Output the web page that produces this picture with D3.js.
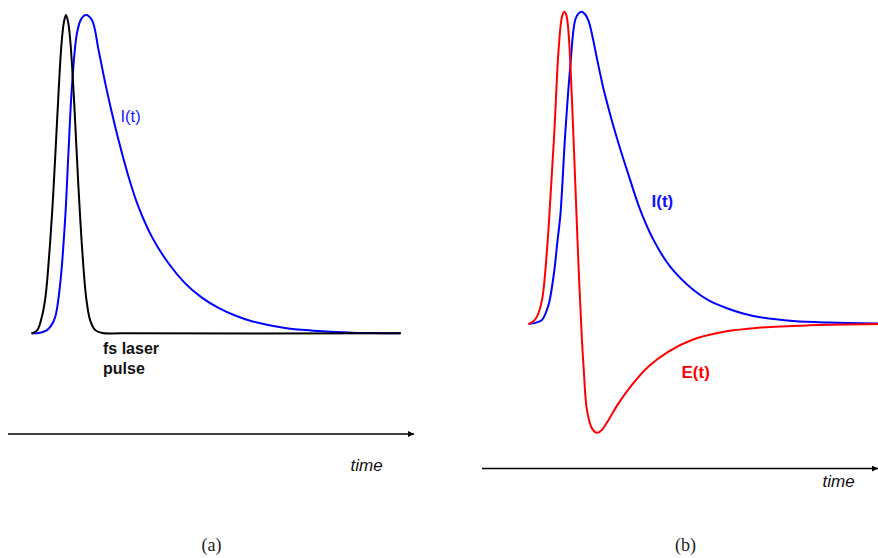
<!DOCTYPE html>
<html>
<head>
<meta charset="utf-8">
<script src="https://cdn.jsdelivr.net/npm/d3@7/dist/d3.min.js"></script>
<style>
  html, body { margin: 0; padding: 0; background: #fff; }
  svg { display: block; }
</style>
</head>
<body>
<svg id="chart" width="878" height="558"></svg>
<script>
// Panel (a): femtosecond laser pulse and the induced current I(t)
// time in arbitrary units, amplitude normalised to the peak
const pulseTimeA = [0, 5, 9, 13, 17, 21, 25, 29, 31.5, 33.7, 36, 38.5, 42, 46, 50, 54, 58, 63, 70, 90, 368];
const pulseValA  = [0, 0.01, 0.045, 0.11, 0.25, 0.44, 0.68, 0.9, 0.975, 1, 0.975, 0.9, 0.72, 0.47, 0.26, 0.11, 0.04, 0.01, 0.001, 0, 0];

const currentTimeA = [0, 8, 14.7, 19, 23, 28, 33, 36.3, 39.7, 44.7, 49, 53.7, 59.7, 66.3, 73, 79.7, 86.3, 96.3, 106.3, 119.7, 136.3, 153, 169.7, 186.3, 203, 219.7, 236, 253, 270, 286.3, 303, 319.7, 340, 368];
const currentValA  = [0, 0.002, 0.01, 0.025, 0.052, 0.158, 0.366, 0.576, 0.776, 0.943, 0.988, 1, 0.984, 0.89, 0.786, 0.692, 0.607, 0.492, 0.397, 0.303, 0.22, 0.157, 0.112, 0.08, 0.056, 0.038, 0.026, 0.017, 0.011, 0.007, 0.004, 0.002, 0.001, 0];

// Panel (b): current I(t) and radiated field E(t)
const fieldTimeB = [0, 4, 7.7, 12.7, 17.7, 21, 25, 29.3, 32.7, 35, 37, 39.3, 42.7, 46, 49.3, 52.7, 54.3, 57.7, 62.7, 67.7, 72.7, 79.3, 89.3, 102.7, 119.3, 139.3, 162.7, 196, 229.3, 279.3, 349];
const fieldValB  = [0, 0.008, 0.023, 0.076, 0.236, 0.397, 0.611, 0.877, 0.984, 1, 0.99, 0.931, 0.717, 0.451, 0.183, -0.052, -0.137, -0.276, -0.335, -0.349, -0.34, -0.308, -0.255, -0.196, -0.137, -0.089, -0.052, -0.025, -0.0125, -0.005, -0.001];

const currentTimeB = [0, 6, 12.7, 16.5, 20, 25, 28, 31, 36, 41, 46, 49.5, 52.5, 56, 59, 61, 64, 67.7, 71, 74.3, 79, 84.3, 91, 97.7, 111, 124.3, 141, 164.3, 180, 197.7, 214, 231, 264.3, 300, 349];
const currentValB  = [0, 0.003, 0.012, 0.035, 0.07, 0.17, 0.26, 0.344, 0.61, 0.824, 0.974, 0.995, 1, 0.991, 0.973, 0.952, 0.909, 0.85, 0.8, 0.752, 0.694, 0.632, 0.56, 0.493, 0.365, 0.269, 0.183, 0.108, 0.074, 0.05, 0.033, 0.021, 0.009, 0.004, 0.001];

const svg = d3.select("#chart");

const xA = d3.scaleLinear().domain([0, 368]).range([32.3, 400]);
const yA = d3.scaleLinear().domain([0, 1]).range([333.3, 15]);
const xB = d3.scaleLinear().domain([0, 349]).range([529.3, 878]);
const yB = d3.scaleLinear().domain([0, 1]).range([323.8, 11.7]);

const zip = (ts, vs) => ts.map((t, i) => [t, vs[i]]);

function drawCurve(ts, vs, x, y, color) {
  const line = d3.line()
    .x(d => x(d[0]))
    .y(d => y(d[1]))
    .curve(d3.curveCatmullRom.alpha(0.5));
  svg.append("path")
    .datum(zip(ts, vs))
    .attr("d", line)
    .attr("fill", "none")
    .attr("stroke", color)
    .attr("stroke-width", 2)
    .attr("stroke-linejoin", "round")
    .attr("stroke-linecap", "round");
}

// arrowhead for the time axes
svg.append("defs").append("marker")
  .attr("id", "arrow")
  .attr("viewBox", "0 0 10 10")
  .attr("refX", 10).attr("refY", 5)
  .attr("markerUnits", "userSpaceOnUse")
  .attr("markerWidth", 8).attr("markerHeight", 6)
  .attr("orient", "auto")
  .append("path")
  .attr("d", "M0,0 L10,5 L0,10 Z")
  .attr("fill", "#000");

function timeAxis(x1, x2, yPos) {
  svg.append("line")
    .attr("x1", x1).attr("x2", x2)
    .attr("y1", yPos).attr("y2", yPos)
    .attr("stroke", "#000")
    .attr("stroke-width", 1.5)
    .attr("marker-end", "url(#arrow)");
}

// ---- panel (a)
drawCurve(currentTimeA, currentValA, xA, yA, "#0000ff");
drawCurve(pulseTimeA, pulseValA, xA, yA, "#000000");
timeAxis(8, 414, 434);

svg.append("text").attr("x", 120.5).attr("y", 121.5)
  .attr("font-family", "Liberation Sans, Arial, sans-serif")
  .attr("font-size", 16.5).attr("fill", "#1a1aff").text("I(t)");
svg.append("text").attr("x", 103).attr("y", 353.5)
  .attr("font-family", "Liberation Sans, Arial, sans-serif")
  .attr("font-weight", "bold").attr("font-size", 16).attr("fill", "#111").text("fs laser");
svg.append("text").attr("x", 103).attr("y", 373.5)
  .attr("font-family", "Liberation Sans, Arial, sans-serif")
  .attr("font-weight", "bold").attr("font-size", 16).attr("fill", "#111").text("pulse");
svg.append("text").attr("x", 350.5).attr("y", 471)
  .attr("font-family", "Liberation Sans, Arial, sans-serif")
  .attr("font-style", "italic").attr("font-size", 17).attr("fill", "#111").text("time");
svg.append("text").attr("x", 201.5).attr("y", 551)
  .attr("font-family", "Liberation Serif, Times New Roman, serif")
  .attr("font-size", 18).attr("fill", "#222").text("(a)");

// ---- panel (b)
drawCurve(currentTimeB, currentValB, xB, yB, "#0000ff");
drawCurve(fieldTimeB, fieldValB, xB, yB, "#ff0000");
timeAxis(482, 878, 468.5);

svg.append("text").attr("x", 651.5).attr("y", 207)
  .attr("font-family", "Liberation Sans, Arial, sans-serif")
  .attr("font-weight", "bold").attr("font-size", 17).attr("fill", "#1010ff").text("I(t)");
svg.append("text").attr("x", 681.5).attr("y", 377.5)
  .attr("font-family", "Liberation Sans, Arial, sans-serif")
  .attr("font-weight", "bold").attr("font-size", 17).attr("fill", "#ff0000").text("E(t)");
svg.append("text").attr("x", 822.5).attr("y", 487)
  .attr("font-family", "Liberation Sans, Arial, sans-serif")
  .attr("font-style", "italic").attr("font-size", 17).attr("fill", "#111").text("time");
svg.append("text").attr("x", 675).attr("y", 551)
  .attr("font-family", "Liberation Serif, Times New Roman, serif")
  .attr("font-size", 18).attr("fill", "#222").text("(b)");
</script>
</body>
</html>
